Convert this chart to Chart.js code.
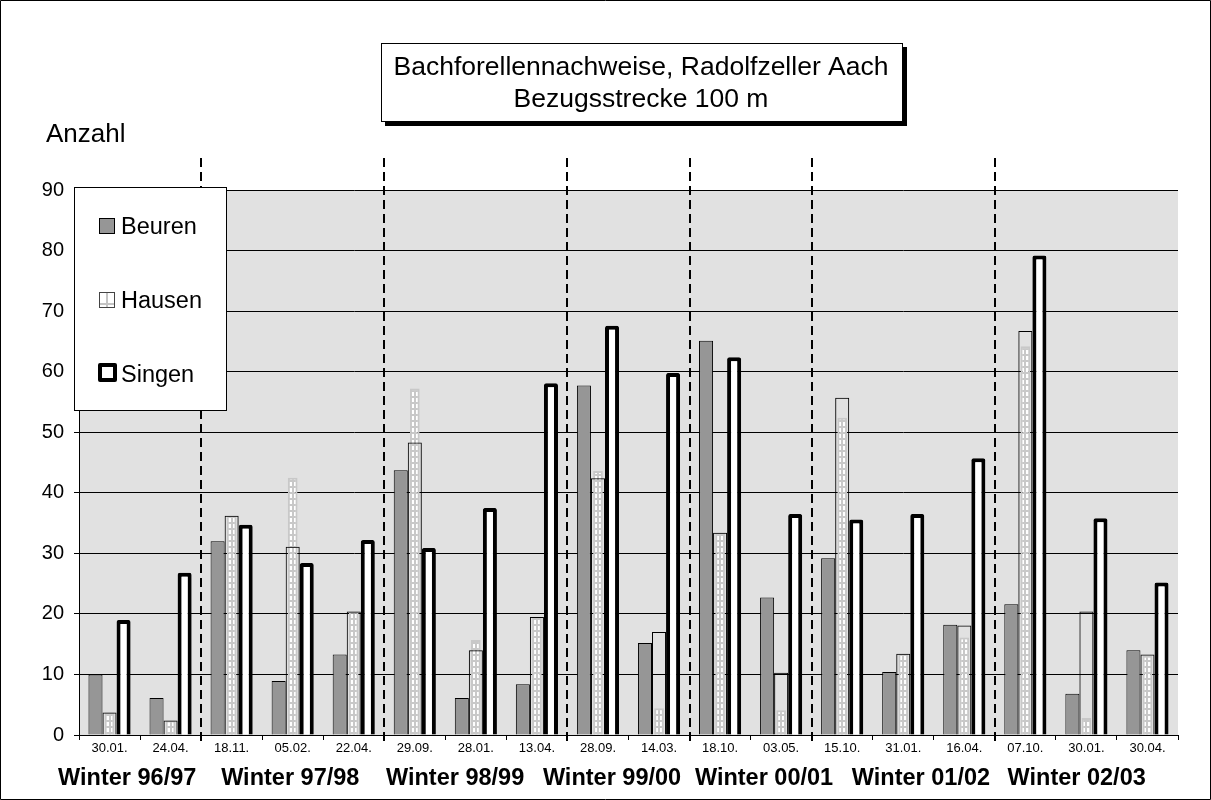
<!DOCTYPE html>
<html>
<head>
<meta charset="utf-8">
<script src="https://cdn.jsdelivr.net/npm/chart.js"></script>
<style>
    html, body { margin: 0; padding: 0; background: #fff; }
    #wrap { width: 1211px; height: 800px; }
</style>
</head>
<body>
<div id="wrap"><canvas id="myChart" width="1211" height="800"></canvas></div>
<script>
// Probennahmetermine und Winter
const dates = ['30.01.', '24.04.', '18.11.', '05.02.', '22.04.', '29.09.', '28.01.', '13.04.', '28.09.',
    '14.03.', '18.10.', '03.05.', '15.10.', '31.01.', '16.04.', '07.10.', '30.01.', '30.04.'];
const winters = ['Winter 96/97', 'Winter 97/98', 'Winter 98/99', 'Winter 99/00', 'Winter 00/01', 'Winter 01/02', 'Winter 02/03'];
const datesPerWinter = [2, 3, 3, 2, 2, 3, 3];

// Anzahl je 100 m
const beuren = [10, 6.1, 32, 8.9, 13.3, 43.7, 6.1, 8.4, 57.7, 15.2, 65.1, 22.7, 29.2, 10.4, 18.2, 21.6, 6.8, 14];
const hausen = [3.7, 2.4, 36.2, 31.1, 20.4, 48.3, 14, 19.5, 42.4, 17, 33.4, 10.3, 55.7, 13.4, 18.1, 66.7, 20.4, 13.3];
const hausenHatch = [3.7, 2.4, 36.2, 42.5, 20.4, 57.2, 15.7, 19.5, 43.6, 4.4, 33.4, 4.1, 52.4, 13.4, 16.1, 64.2, 2.8, 13.1];
const singen = [19, 26.8, 34.7, 28.4, 32.2, 30.9, 37.5, 58.1, 67.6, 59.8, 62.4, 36.5, 35.6, 36.5, 45.7, 79.2, 35.8, 25.2];

const yTicks = [0, 10, 20, 30, 40, 50, 60, 70, 80, 90];

const FONT = "'Liberation Sans', Arial, sans-serif";
Chart.defaults.font.family = FONT;
Chart.defaults.color = '#000';

const catPct = 0.69;

// Schraffur fuer Hausen
function makeTile() {
    const c = document.createElement('canvas');
    c.width = 14;
    c.height = 6;
    const g = c.getContext('2d');
    g.fillStyle = '#fff';
    g.fillRect(0, 0, 14, 6);
    g.fillStyle = '#c8c8c8';
    g.fillRect(0, 0, 14, 2);
    g.fillRect(6, 0, 2, 6);
    return c;
}
const tile = makeTile();

function hatchFill(ctx) {
    const sc = ctx.chart.scales.x;
    if (ctx.type !== 'data' || !sc) return '#ffffff';
    const step = sc.getPixelForValue(1) - sc.getPixelForValue(0);
    const left = sc.getPixelForValue(ctx.dataIndex) - step * catPct / 6;
    const p = ctx.chart.ctx.createPattern(tile, 'repeat');
    p.setTransform(new DOMMatrix().translate(Math.round(left), 0));
    return p;
}

const plotBg = {
    id: 'plotBg',
    beforeDraw(chart) {
        const a = chart.chartArea;
        const c = chart.ctx;
        c.save();
        c.fillStyle = '#fff';
        c.fillRect(0, 0, chart.width, chart.height);
        c.fillStyle = '#e1e1e1';
        c.fillRect(a.left, a.top, a.right - a.left, a.bottom - a.top);
        c.restore();
    }
};

const decorations = {
    id: 'decorations',
    afterDatasetsDraw(chart) {
        // gestrichelte Trennlinien zwischen den Wintern
        const sc = chart.scales.x;
        const c = chart.ctx;
        c.save();
        c.strokeStyle = '#000';
        c.lineWidth = 2;
        c.setLineDash([9, 5]);
        let n = 0;
        for (let k = 0; k < datesPerWinter.length - 1; k++) {
            n += datesPerWinter[k];
            const x = Math.round(sc.getPixelForValue(n - 0.5));
            c.beginPath();
            c.moveTo(x, 158);
            c.lineTo(x, 741);
            c.stroke();
        }
        c.restore();
    },
    afterDraw(chart) {
        const c = chart.ctx;
        const sc = chart.scales.x;
        c.save();

        // Titelkasten mit Schatten
        c.fillStyle = '#000';
        c.fillRect(385, 47, 522, 79);
        c.fillStyle = '#fff';
        c.fillRect(381, 43, 522, 79);
        c.strokeStyle = '#000';
        c.lineWidth = 1;
        c.strokeRect(381.5, 43.5, 521, 78);
        c.fillStyle = '#000';
        c.font = '26.5px ' + FONT;
        c.textAlign = 'center';
        c.textBaseline = 'alphabetic';
        c.fillText('Bachforellennachweise, Radolfzeller Aach', 641, 75);
        c.fillText('Bezugsstrecke 100 m', 641, 107);

        // Achsentitel
        c.textAlign = 'left';
        c.font = '26px ' + FONT;
        c.fillText('Anzahl', 46, 142);

        // Winterbeschriftung
        const anchors = [0.29, 2.96, 5.66, 8.23, 10.72, 13.29, 15.84];
        c.textAlign = 'center';
        c.font = 'bold 23.5px ' + FONT;
        winters.forEach((w, k) => c.fillText(w, sc.getPixelForValue(anchors[k]), 785));

        // Legende
        c.fillStyle = '#fff';
        c.fillRect(74, 187, 152, 223);
        c.strokeStyle = '#000';
        c.lineWidth = 1;
        c.strokeRect(74.5, 187.5, 152, 223);

        c.fillStyle = '#969696';
        c.fillRect(99, 218, 16, 16);
        c.strokeRect(99.5, 218.5, 15, 15);

        c.fillStyle = '#fff';
        c.fillRect(99, 292, 16, 16);
        c.fillStyle = '#c4c4c4';
        c.fillRect(106, 293, 2, 14);
        c.fillRect(100, 303, 14, 2);
        c.strokeStyle = '#444';
        c.strokeRect(99.5, 292.5, 15, 15);

        c.strokeStyle = '#000';
        c.lineWidth = 4;
        c.lineJoin = 'round';
        c.strokeRect(100, 365, 15, 15);

        c.fillStyle = '#000';
        c.textAlign = 'left';
        c.font = '23.5px ' + FONT;
        c.fillText('Beuren', 121, 234);
        c.fillText('Hausen', 121, 308);
        c.fillText('Singen', 121, 382);

        // Rahmen
        c.lineWidth = 1;
        c.strokeStyle = '#000';
        c.strokeRect(0.5, 0.5, 1210, 799);
        c.restore();
    }
};

const ctx = document.getElementById('myChart');
const myChart = new Chart(ctx, {
    type: 'bar',
    data: {
        labels: dates,
        datasets: [{
            label: 'Beuren',
            data: beuren,
            backgroundColor: '#969696',
            borderColor: '#000',
            borderWidth: 1,
            order: 0
        }, {
            label: 'Hausen',
            data: hausen,
            backgroundColor: 'rgba(0,0,0,0)',
            borderColor: '#000',
            borderWidth: 1,
            order: 0
        }, {
            label: 'Singen',
            data: singen,
            backgroundColor: '#fff',
            borderColor: '#000',
            borderWidth: 4,
            borderRadius: 2,
            order: 0
        }, {
            label: 'Hausen Schraffur',
            data: hausenHatch,
            grouped: false,
            backgroundColor: hatchFill,
            borderColor: '#c8c8c8',
            borderWidth: 2,
            barPercentage: catPct / 3,
            order: 1
        }]
    },
    options: {
        responsive: false,
        animation: false,
        datasets: {
            bar: {
                categoryPercentage: catPct,
                barPercentage: 1
            }
        },
        layout: {
            padding: {top: 190, left: 0, right: 33, bottom: 0}
        },
        scales: {
            x: {
                offset: true,
                afterFit: (scale) => { scale.height = 65; },
                grid: {
                    display: true,
                    offset: true,
                    drawOnChartArea: false,
                    drawTicks: true,
                    tickLength: 5,
                    color: '#000'
                },
                border: {display: true, color: '#000', width: 1},
                ticks: {
                    autoSkip: false,
                    maxRotation: 0,
                    padding: 1,
                    font: {size: 13}
                }
            },
            y: {
                min: 0,
                max: 90,
                afterFit: (scale) => { scale.width = 79; },
                afterBuildTicks: (scale) => { scale.ticks = yTicks.map(v => ({value: v})); },
                grid: {
                    color: '#000',
                    lineWidth: 1,
                    tickLength: 5
                },
                border: {display: true, color: '#000', width: 1},
                ticks: {
                    padding: 10,
                    font: {size: 20}
                }
            }
        },
        plugins: {
            legend: {display: false},
            title: {display: false},
            tooltip: {enabled: false}
        }
    },
    plugins: [plotBg, decorations]
});
</script>
</body>
</html>
